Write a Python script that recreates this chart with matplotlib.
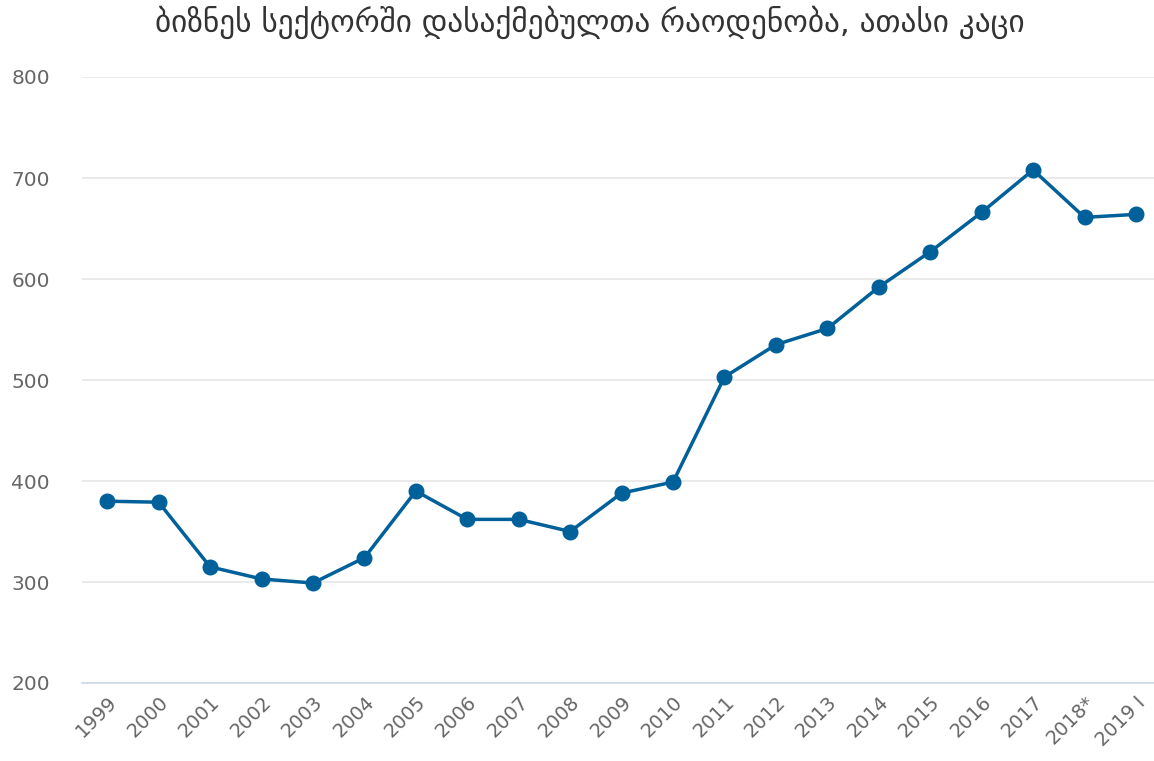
import matplotlib.pyplot as plt

years = ["1999", "2000", "2001", "2002", "2003", "2004", "2005", "2006", "2007",
         "2008", "2009", "2010", "2011", "2012", "2013", "2014", "2015", "2016",
         "2017", "2018*", "2019 I"]
employed = [380, 379, 315, 303, 299, 324, 390, 362, 362, 350, 388, 399, 503,
            535, 551, 592, 627, 666, 708, 661, 664]
title = "ბიზნეს სექტორში დასაქმებულთა რაოდენობა, ათასი კაცი"

plt.rcParams['font.family'] = ['DejaVu Sans']

fig = plt.figure(figsize=(11.54, 7.61), dpi=100)
ax = fig.add_axes([82 / 1154, 1 - 683 / 761, 1 - 82 / 1154, (683 - 77) / 761])

x = list(range(len(years)))
ax.plot(x, employed, color="#00609a", lw=2.5, marker="o", ms=10.5, zorder=3)

ax.set_ylim(200, 800)
ax.set_yticks(range(200, 801, 100))
ax.set_xlim(-0.49, 20.35)
ax.set_xticks(x)
ax.set_xticklabels(years, rotation=45, ha="right", rotation_mode="anchor")
ax.grid(axis="y", color="#e6e6e6", lw=1.2)
ax.set_axisbelow(True)

for side in ["top", "right", "left"]:
    ax.spines[side].set_visible(False)
ax.spines["bottom"].set_color("#ccd6eb")
ax.spines["bottom"].set_linewidth(1.2)

ax.tick_params(axis="y", length=0, pad=51, labelsize=14.5, labelcolor="#666666")
ax.tick_params(axis="x", length=0, pad=7, labelsize=14, labelcolor="#666666")
for lbl in ax.get_yticklabels():
    lbl.set_horizontalalignment("left")

fig.text(590 / 1154, 1 - 22 / 761, title, ha="center", va="center",
         fontsize=22.5, color="#333333")

fig.savefig("out.png", dpi=100)
